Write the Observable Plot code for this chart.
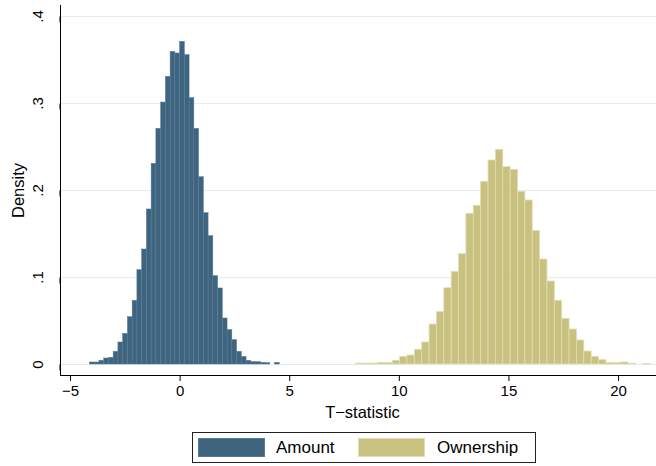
<!DOCTYPE html>
<html><head><meta charset="utf-8">
<script src="https://cdn.jsdelivr.net/npm/d3@7"></script>
<script src="https://cdn.jsdelivr.net/npm/@observablehq/plot@0.6"></script>
<style>
body{margin:0;background:#fff;font-family:"Liberation Sans",Arial,sans-serif;}
#wrap{position:relative;width:656px;height:466px;overflow:hidden;}
#legend{position:absolute;left:192px;top:432px;width:342px;height:29px;border:1px solid #222;background:#fff;}
.key{position:absolute;top:5px;width:67px;height:19px;box-sizing:border-box;}
.lab{position:absolute;top:0;line-height:30px;font-size:17px;color:#000;}
</style></head><body><div id="wrap"></div>
<script>
const amountStart = -4.1135, amountBinWidth = 0.2165;
const amountDensity = [0.0023,0.0023,0.0042,0.0069,0.0077,0.0146,0.0253,0.0352,0.0544,0.0732,
  0.1084,0.1322,0.1782,0.2307,0.2709,0.3011,0.3307,0.3594,0.3575,0.3709,
  0.3556,0.3061,0.2709,0.2153,0.1739,0.1475,0.1015,0.0874,0.0529,0.0395,
  0.0280,0.0146,0.0088,0.0042,0.0027,0.0027,0.0019,0.0015,0,0.0019];
const ownershipStart = 8.02, ownershipBinWidth = 0.336;
const ownershipDensity = [0.0011,0.0011,0.0011,0.0019,0.0019,0.0042,0.0088,0.0103,0.0169,0.0253,
  0.0460,0.0602,0.0877,0.1065,0.1268,0.1732,0.1824,0.2100,0.2345,0.2467,
  0.2268,0.2238,0.1985,0.1885,0.1533,0.1207,0.0954,0.0732,0.0525,0.0402,
  0.0276,0.0149,0.0088,0.0050,0.0019,0.0015,0.0023,0.0008,0,0.0008];
const seriesNames = ["Amount", "Ownership"];
const seriesColors = ["#3f6480", "#c9c17f"];
const seriesStrokes = ["#587a93", "#e2ddb3"];
const xTicks = [-5, 0, 5, 10, 15, 20];
const yTicks = [0, 0.1, 0.2, 0.3, 0.4];
const xDomain = [-5.456, 21.73];
const yDomain = [-0.01264, 0.41264];
const xLabel = "T\u2212statistic";
const yLabel = "Density";

function bins(start, w, dens, name) {
  return dens.map((d, i) => ({series: name, x1: start + i * w, x2: start + (i + 1) * w, y: d})).filter(r => r.y > 0);
}
const amountRows = bins(amountStart, amountBinWidth, amountDensity, seriesNames[0]);
const ownershipRows = bins(ownershipStart, ownershipBinWidth, ownershipDensity, seriesNames[1]);

const chart = Plot.plot({
  width: 656, height: 425,
  marginLeft: 60, marginRight: 0, marginTop: 5, marginBottom: 50,
  style: {fontFamily: "'Liberation Sans', Arial, sans-serif", background: "#fff", color: "#000"},
  x: {domain: xDomain},
  y: {domain: yDomain},
  marks: [
    Plot.ruleY(yTicks, {stroke: "#e4edf0", strokeWidth: 1}),
    Plot.rectY(amountRows, {x1: "x1", x2: "x2", y: "y", fill: seriesColors[0], stroke: seriesStrokes[0], strokeWidth: 0.5}),
    Plot.rectY(ownershipRows, {x1: "x1", x2: "x2", y: "y", fill: seriesColors[1], stroke: seriesStrokes[1], strokeWidth: 0.8}),
    Plot.ruleX([xDomain[0]], {stroke: "#000", strokeWidth: 1}),
    Plot.ruleY([yDomain[0]], {stroke: "#000", strokeWidth: 1}),
    Plot.axisX({ticks: xTicks, tickSize: 6, tickPadding: 4, fontSize: 15, label: null,
      tickFormat: d => d < 0 ? "\u2212" + Math.abs(d) : String(d)}),
    Plot.axisY({ticks: yTicks, tickSize: 6, tickPadding: 12, fontSize: 15, label: null,
      rotate: -90, textAnchor: "middle", lineAnchor: "bottom",
      tickFormat: d => d === 0 ? "0" : String(d).replace(/^0/, "")}),
    Plot.text([yLabel], {text: d => d, frameAnchor: "left", dx: -37, rotate: -90, fontSize: 16.5, lineAnchor: "bottom", textAnchor: "middle"}),
    Plot.text([xLabel], {text: d => d, frameAnchor: "bottom", dy: 42, dx: 4, fontSize: 16.5, lineAnchor: "bottom", textAnchor: "middle"})
  ]
});
const wrap = document.getElementById("wrap");
wrap.appendChild(chart);

const legend = document.createElement("div");
legend.id = "legend";
const keyLeft = [5, 165];
const labLeft = [83, 244];
seriesNames.forEach((name, i) => {
  const k = document.createElement("div");
  k.className = "key";
  k.style.left = keyLeft[i] + "px";
  k.style.background = seriesColors[i];
  k.style.border = "1px solid " + seriesStrokes[i];
  legend.appendChild(k);
  const t = document.createElement("div");
  t.className = "lab";
  t.style.left = labLeft[i] + "px";
  t.textContent = name;
  legend.appendChild(t);
});
wrap.appendChild(legend);
</script></body></html>
